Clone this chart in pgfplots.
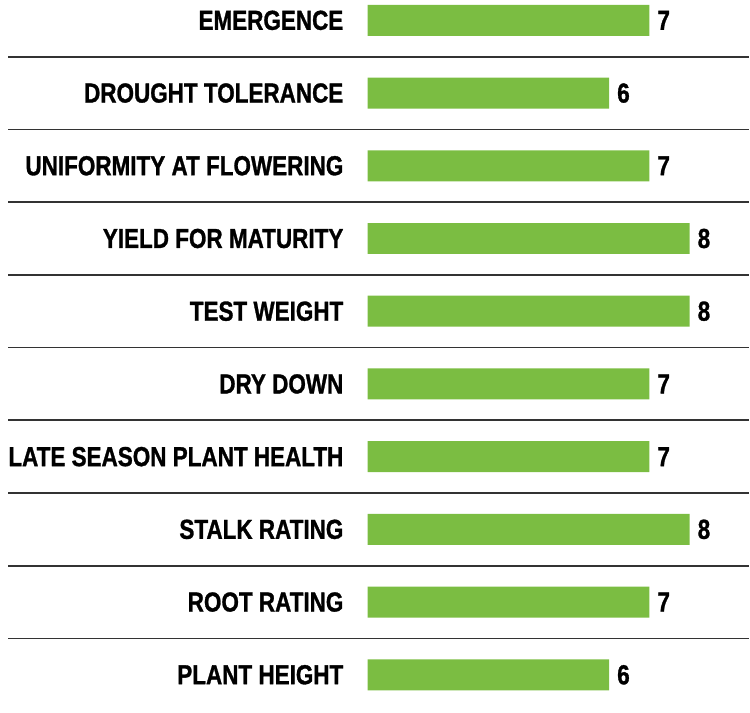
\documentclass[border=0pt]{standalone}
\usepackage{pgfplots}
\pgfplotsset{compat=1.18}
\usepackage{fontspec}
\setmainfont{Liberation Sans}[BoldFeatures={FakeBold=1.2}]
\definecolor{bargreen}{RGB}{123,189,66}
\newcommand\lbl[1]{\scalebox{0.818}[1]{#1}}
\begin{document}
\begin{tikzpicture}
\begin{axis}[
  x=40.3pt, y=72.8pt,
  y dir=reverse,
  xmin=0, xmax=9.48, ymin=-0.28, ymax=9.52,
  enlargelimits=false,
  clip=false,
  axis line style={draw=none},
  xtick=\empty,
  ytick={0,1,2,3,4,5,6,7,8,9},
  major tick length=0pt,
  tick style={draw=none},
  yticklabels={\lbl{EMERGENCE},\lbl{DROUGHT TOLERANCE},\lbl{UNIFORMITY AT FLOWERING},\lbl{YIELD FOR MATURITY},\lbl{TEST WEIGHT},\lbl{DRY DOWN},\lbl{LATE SEASON PLANT HEALTH},\lbl{STALK RATING},\lbl{ROOT RATING},\lbl{PLANT HEIGHT}},
  yticklabel style={inner sep=0pt, xshift=-24pt, anchor=east, font=\bfseries\fontsize{27.5}{30}\selectfont},
  /pgf/number format/assume math mode=true,
  xbar,
  bar width=31pt,
  nodes near coords={\lbl{\pgfmathprintnumber{\pgfplotspointmeta}}},
  nodes near coords style={anchor=west, inner sep=0pt, xshift=8pt, font=\bfseries\fontsize{27.5}{30}\selectfont, text=black},
  point meta=x,
]
\addplot[fill=bargreen, draw=none] coordinates {
  (7,0) (6,1) (7,2) (8,3) (8,4) (7,5) (7,6) (8,7) (7,8) (6,9)
};
\path (axis cs:-9.13,-0.28) -- (axis cs:9.48,9.52);
\foreach \yy in {0.5,1.5,2.5,3.5,4.5,5.5,6.5,7.5,8.5} {
  \edef\tmp{\noexpand\draw[line width=1.8pt, black!80] (axis cs:-8.93,\yy) -- (axis cs:9.48,\yy);}
  \tmp
}
\end{axis}
\end{tikzpicture}
\end{document}
